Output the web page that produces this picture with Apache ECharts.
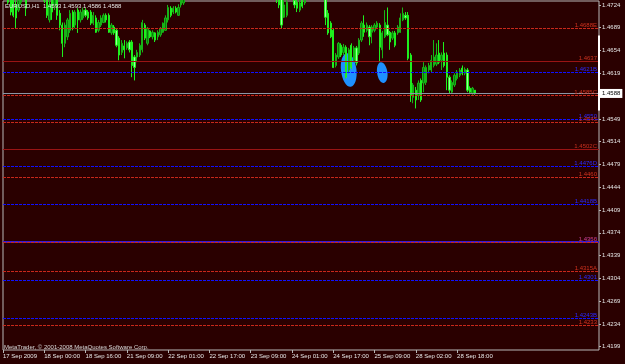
<!DOCTYPE html>
<html><head><meta charset="utf-8">
<script src="https://cdn.jsdelivr.net/npm/echarts@6/dist/echarts.min.js"></script>
<style>html,body{margin:0;padding:0;background:#2a0000}#c{width:625px;height:364px}</style>
</head><body><div id="c"></div>
<script>
const FONT = '"Liberation Sans",Arial,sans-serif';
const FS = 6;

const chartTitle = 'EURUSD,H1  1.4593 1.4593 1.4586 1.4588';
const copyright = 'MetaTrader, \u00a9 2001-2008 MetaQuotes Software Corp.';

const timeLabels = ['17 Sep 2009','18 Sep 00:00','18 Sep 16:00','21 Sep 09:00','22 Sep 01:00','22 Sep 17:00',
  '23 Sep 09:00','24 Sep 01:00','24 Sep 17:00','25 Sep 09:00','28 Sep 02:00','28 Sep 18:00'];
const barsPerLabel = 16;
const totalSlots = 232;

const opens = [
1.4754,1.4736,1.4739,1.4739,1.4731,1.4724,1.4716,1.4728,1.4734,1.4739,
1.4736,1.4747,1.4762,1.4754,1.4770,1.4754,1.4739,1.4731,1.4701,1.4731,
1.4724,1.4739,1.4711,1.4693,1.4665,1.4675,1.4685,1.4713,1.4693,1.4716,
1.4701,1.4704,1.4716,1.4713,1.4713,1.4696,1.4704,1.4685,1.4693,1.4697,
1.4708,1.4708,1.4681,1.4690,1.4685,1.4673,1.4651,1.4661,1.4658,1.4667,
1.4667,1.4644,1.4644,1.4647,1.4655,1.4693,1.4665,1.4684,1.4675,1.4681,
1.4675,1.4678,1.4682,1.4685,1.4701,1.4719,1.4713,1.4719,1.4708,1.4724,
1.4727,1.4739,1.4748,1.4755,1.4763,1.4757,1.4761,1.4771,1.4778,1.4786,
1.4780,1.4774,1.4767,1.4775,1.4785,1.4793,1.4801,1.4810,1.4806,1.4813,
1.4820,1.4829,1.4825,1.4815,1.4806,1.4796,1.4790,1.4781,1.4786,1.4777,
1.4770,1.4763,1.4767,1.4756,1.4749,1.4752,1.4745,1.4738,1.4747,1.4705,
1.4708,1.4736,1.4745,1.4731,1.4728,1.4716,1.4731,1.4727,1.4736,1.4746,
1.4752,1.4744,1.4750,1.4747,1.4742,1.4739,1.4711,1.4696,1.4685,1.4631,
1.4644,1.4662,1.4651,1.4659,1.4624,1.4662,1.4639,1.4658,1.4650,1.4670,
1.4693,1.4685,1.4690,1.4682,1.4685,1.4690,1.4693,1.4655,1.4675,1.4693,
1.4682,1.4673,1.4681,1.4681,1.4682,1.4701,1.4708,1.4708,1.4647,1.4582,
1.4593,1.4585,1.4608,1.4604,1.4605,1.4624,1.4624,1.4631,1.4633,1.4650,
1.4639,1.4650,1.4647,1.4613,1.4590,1.4601,1.4611,1.4616,1.4627,1.4619,
1.4624,1.4596,1.4588,1.4593];
const highs = [
1.4762,1.4754,1.4747,1.4747,1.4739,1.4731,1.4739,1.4747,1.4754,1.4747,
1.4754,1.4770,1.4770,1.4777,1.4777,1.4762,1.4747,1.4739,1.4731,1.4739,
1.4747,1.4743,1.4716,1.4697,1.4697,1.4704,1.4716,1.4716,1.4716,1.4719,
1.4717,1.4720,1.4719,1.4716,1.4716,1.4713,1.4708,1.4701,1.4708,1.4711,
1.4711,1.4711,1.4696,1.4693,1.4688,1.4676,1.4670,1.4670,1.4668,1.4670,
1.4670,1.4647,1.4655,1.4665,1.4701,1.4696,1.4690,1.4685,1.4685,1.4682,
1.4685,1.4690,1.4697,1.4708,1.4724,1.4722,1.4722,1.4722,1.4725,1.4739,
1.4747,1.4752,1.4760,1.4768,1.4770,1.4766,1.4775,1.4782,1.4790,1.4794,
1.4788,1.4781,1.4779,1.4789,1.4798,1.4806,1.4815,1.4822,1.4818,1.4827,
1.4836,1.4843,1.4833,1.4822,1.4812,1.4805,1.4798,1.4790,1.4794,1.4785,
1.4778,1.4771,1.4774,1.4763,1.4758,1.4760,1.4753,1.4746,1.4754,1.4731,
1.4739,1.4752,1.4750,1.4739,1.4733,1.4731,1.4736,1.4743,1.4750,1.4758,
1.4761,1.4755,1.4759,1.4756,1.4750,1.4747,1.4716,1.4699,1.4688,1.4650,
1.4667,1.4665,1.4664,1.4662,1.4658,1.4665,1.4661,1.4661,1.4673,1.4699,
1.4708,1.4697,1.4693,1.4693,1.4696,1.4699,1.4696,1.4684,1.4716,1.4720,
1.4684,1.4684,1.4684,1.4693,1.4711,1.4720,1.4713,1.4713,1.4650,1.4604,
1.4598,1.4608,1.4611,1.4636,1.4631,1.4635,1.4647,1.4670,1.4665,1.4670,
1.4651,1.4667,1.4651,1.4616,1.4608,1.4619,1.4624,1.4627,1.4631,1.4628,
1.4627,1.4599,1.4598,1.4593];
const lows = [
1.4734,1.4731,1.4725,1.4708,1.4705,1.4688,1.4713,1.4724,1.4731,1.4707,
1.4731,1.4739,1.4747,1.4747,1.4747,1.4736,1.4727,1.4704,1.4697,1.4701,
1.4716,1.4701,1.4685,1.4644,1.4659,1.4670,1.4681,1.4685,1.4688,1.4681,
1.4697,1.4701,1.4705,1.4701,1.4693,1.4693,1.4681,1.4682,1.4690,1.4696,
1.4697,1.4681,1.4678,1.4678,1.4659,1.4639,1.4647,1.4642,1.4655,1.4651,
1.4613,1.4608,1.4636,1.4644,1.4651,1.4670,1.4662,1.4673,1.4671,1.4667,
1.4670,1.4675,1.4681,1.4684,1.4697,1.4705,1.4710,1.4711,1.4707,1.4720,
1.4724,1.4735,1.4741,1.4750,1.4752,1.4749,1.4758,1.4765,1.4772,1.4776,
1.4770,1.4762,1.4760,1.4771,1.4780,1.4788,1.4795,1.4802,1.4798,1.4807,
1.4814,1.4821,1.4810,1.4800,1.4790,1.4784,1.4776,1.4770,1.4772,1.4764,
1.4758,1.4752,1.4750,1.4744,1.4740,1.4735,1.4727,1.4719,1.4688,1.4704,
1.4705,1.4734,1.4731,1.4719,1.4713,1.4713,1.4719,1.4724,1.4733,1.4739,
1.4740,1.4737,1.4742,1.4738,1.4735,1.4693,1.4678,1.4673,1.4627,1.4628,
1.4641,1.4644,1.4647,1.4611,1.4619,1.4625,1.4636,1.4631,1.4647,1.4667,
1.4675,1.4682,1.4662,1.4665,1.4682,1.4688,1.4636,1.4642,1.4673,1.4676,
1.4655,1.4670,1.4659,1.4678,1.4681,1.4699,1.4701,1.4639,1.4575,1.4573,
1.4565,1.4578,1.4575,1.4590,1.4601,1.4619,1.4621,1.4628,1.4630,1.4633,
1.4624,1.4628,1.4593,1.4588,1.4588,1.4598,1.4608,1.4613,1.4616,1.4616,
1.4590,1.4587,1.4586,1.4586];
const closes = [
1.4739,1.4747,1.4728,1.4713,1.4708,1.4704,1.4731,1.4739,1.4747,1.4719,
1.4747,1.4762,1.4754,1.4770,1.4754,1.4739,1.4731,1.4708,1.4724,1.4713,
1.4739,1.4708,1.4693,1.4665,1.4693,1.4701,1.4711,1.4690,1.4713,1.4701,
1.4713,1.4716,1.4708,1.4704,1.4696,1.4708,1.4682,1.4697,1.4704,1.4708,
1.4701,1.4682,1.4693,1.4681,1.4662,1.4647,1.4665,1.4655,1.4665,1.4655,
1.4631,1.4628,1.4651,1.4662,1.4697,1.4673,1.4688,1.4675,1.4682,1.4670,
1.4682,1.4688,1.4696,1.4704,1.4720,1.4708,1.4719,1.4713,1.4720,1.4731,
1.4739,1.4748,1.4755,1.4763,1.4757,1.4761,1.4771,1.4778,1.4786,1.4780,
1.4774,1.4767,1.4775,1.4785,1.4793,1.4801,1.4810,1.4806,1.4813,1.4820,
1.4829,1.4825,1.4815,1.4806,1.4796,1.4790,1.4781,1.4786,1.4777,1.4770,
1.4763,1.4767,1.4756,1.4749,1.4752,1.4745,1.4738,1.4724,1.4693,1.4724,
1.4728,1.4745,1.4736,1.4724,1.4719,1.4727,1.4722,1.4736,1.4746,1.4752,
1.4744,1.4750,1.4747,1.4742,1.4739,1.4705,1.4681,1.4675,1.4628,1.4647,
1.4665,1.4647,1.4659,1.4613,1.4655,1.4628,1.4658,1.4635,1.4670,1.4696,
1.4682,1.4693,1.4675,1.4690,1.4693,1.4696,1.4659,1.4681,1.4697,1.4678,
1.4667,1.4681,1.4662,1.4690,1.4704,1.4711,1.4704,1.4642,1.4585,1.4601,
1.4578,1.4604,1.4578,1.4628,1.4628,1.4631,1.4639,1.4644,1.4647,1.4636,
1.4647,1.4631,1.4613,1.4593,1.4605,1.4616,1.4621,1.4624,1.4619,1.4625,
1.4593,1.4590,1.4596,1.4588];

const priceTicks = [1.4724,1.4689,1.4654,1.4619,1.4549,1.4514,1.4479,1.4444,1.4409,1.4374,1.4339,1.4304,1.4269,1.4234,1.4199];
const priceMin = 1.4194, priceMax = 1.4730;
const bidPrice = 1.4588;
// white marker drawn on the price scale between these prices
const scaleMarkTop = 1.4677, scaleMarkBottom = 1.4562;

const levelPrices = [1.4688,1.4637,1.4621,1.4585,1.4549,1.4544,1.4502,1.4476,1.4459,1.4418,1.4360,1.4360,1.4315,1.4301,1.4243,1.4232];
const levelTexts  = ['1.4688E','1.4637','1.4621B','1.4585C','1.4550','1.4545','1.4502C','1.4476D','1.4460','1.4418B','1.4360','1.4356','1.4315A','1.4301','1.4243B','1.4233'];
const levelKinds  = ['redDash','redSolid','blueDash','redDash','blueDash','redDash','redSolid','blueDash','redDash','blueDash','blueSolid','redDash','redDash','blueDash','blueDash','redDash'];

// drawn ellipse objects: bar index, price, half-width in bars, half-height in price, tilt
const ellipseBars   = [133.9, 146.9];
const ellipsePrices = [1.4624, 1.4620];
const ellipseHalfW  = [2.8, 1.9];
const ellipseHalfH  = [0.00260, 0.00160];
const ellipseTilt   = [0.12, 0.15];

const kindStyle = {
  redDash:  {color:'#c8281a', type:[3,1], width:1, text:'#d0321e'},
  redSolid: {color:'#9a1414', type:'solid', width:1, text:'#c8301e'},
  blueDash: {color:'#1010ff', type:[3,1], width:1, text:'#2a2aff'},
  blueSolid:{color:'#3a1ad0', type:'solid', width:2, text:'#2a2aff'}
};

const categories = [];
for (let i = 0; i < totalSlots; i++) categories.push(String(i));
const ohlc = opens.map((o, i) => [o, closes[i], lows[i], highs[i]]);

const markData = levelPrices.map((p, i) => {
  const s = kindStyle[levelKinds[i]];
  return {yAxis: p, lineStyle:{color:s.color, type:s.type, width:s.width},
    label:{show:true, position:'insideEndTop', formatter: levelTexts[i], color:s.text,
      fontSize:FS, fontFamily:FONT, distance:[2,0]}};
});
markData.push({yAxis: bidPrice, lineStyle:{color:'#8a96a6', type:'solid', width:1},
  label:{show:true, position:'end', formatter: bidPrice.toFixed(4), color:'#000', backgroundColor:'#ffffff',
    fontSize:FS, fontFamily:FONT, padding:[2,2,1,2], distance:1}});

const chart = echarts.init(document.getElementById('c'));
chart.setOption({
  animation:false,
  backgroundColor:'#2a0000',
  grid:{left:2, top:1, width:597, height:349, show:true, borderColor:'#b8b8b8', borderWidth:1, backgroundColor:'transparent'},
  xAxis:{type:'category', data:categories, boundaryGap:false,
    axisLine:{show:false},
    axisTick:{show:true, length:3, interval:(i)=> i % barsPerLabel === 0 && i/barsPerLabel < timeLabels.length, lineStyle:{color:'#b8b8b8'}},
    axisLabel:{show:true, interval:(i)=> i % barsPerLabel === 0 && i/barsPerLabel < timeLabels.length,
      formatter:(v)=> timeLabels[Number(v)/barsPerLabel] || '', align:'left', margin:3,
      color:'#e6e6e6', fontSize:FS, fontFamily:FONT},
    splitLine:{show:false}},
  yAxis:{type:'value', position:'right', min:priceMin, max:priceMax, scale:true,
    axisLine:{show:false},
    axisTick:{show:true, length:2, customValues:priceTicks, lineStyle:{color:'#b8b8b8'}},
    axisLabel:{show:true, customValues:priceTicks, formatter:(v)=> v.toFixed(4), margin:3,
      color:'#e6e6e6', fontSize:FS, fontFamily:FONT},
    splitLine:{show:false}},
  series:[{
    type:'candlestick', data:ohlc, barWidth:1.8, clip:true, z:3,
    itemStyle:{color:'#0a7a0a', color0:'#9cff9c', borderColor:'#17b417', borderColor0:'#1ef01e', borderWidth:1},
    markLine:{silent:true, precision:4, symbol:['none','none'], animation:false, data:markData}
  }],
  graphic:[
    {type:'text', left:5, top:3, z:10, style:{text:chartTitle, fill:'#e6e6e6', fontSize:FS, fontFamily:FONT}},
    {type:'text', left:4, top:344, z:10, style:{text:copyright, fill:'#d8d8d8', fontSize:FS, fontFamily:FONT}}
  ]
});

const extra = ellipseBars.map((b, i) => {
  const c = chart.convertToPixel({gridIndex:0}, [b, ellipsePrices[i]]);
  const e = chart.convertToPixel({gridIndex:0}, [b + ellipseHalfW[i], ellipsePrices[i] + ellipseHalfH[i]]);
  return {type:'ellipse', id:'ell'+i, x:c[0], y:c[1], rotation:ellipseTilt[i], z:1, silent:true,
    shape:{cx:0, cy:0, rx:Math.abs(e[0]-c[0]), ry:Math.abs(e[1]-c[1])}, style:{fill:'#1e90ff'}};
});
const mTop = chart.convertToPixel({gridIndex:0}, [totalSlots - 1, scaleMarkTop]);
const mBot = chart.convertToPixel({gridIndex:0}, [totalSlots - 1, scaleMarkBottom]);
extra.push({type:'rect', id:'scaleMark', z:20, silent:true,
  shape:{x:mTop[0] - 1, y:mTop[1], width:2, height:mBot[1] - mTop[1]}, style:{fill:'#ffffff'}});
chart.setOption({graphic: extra});
</script>
</body></html>
